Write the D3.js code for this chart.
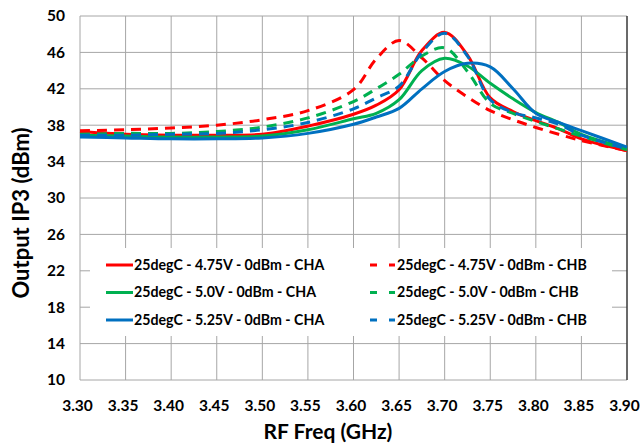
<!DOCTYPE html>
<html>
<head>
<meta charset="utf-8">
<script src="https://cdn.jsdelivr.net/npm/d3@7"></script>
<style>
body{margin:0;background:#fff;}
text{font-family:"Lato","Liberation Sans",sans-serif;font-weight:bold;fill:#000;}
</style>
</head>
<body>
<div id="chart"></div>
<script>
// ****** data ******
var freqs  = [3.30,3.35,3.40,3.45,3.50,3.55,3.60,3.625,3.65,3.675,3.70,3.725,3.75,3.775,3.80,3.825,3.85,3.90];
var cha475 = [37.3,37.0,36.9,36.9,37.0,37.9,39.2,40.2,41.9,46.2,48.2,45.7,41.0,39.5,38.5,37.6,36.5,35.2];
var chb475 = [37.4,37.5,37.7,38.0,38.6,39.6,41.9,45.3,47.3,45.4,42.9,41.1,39.6,38.6,37.75,37.0,36.3,35.2];
var cha50  = [36.9,36.8,36.7,36.7,36.8,37.5,38.7,39.3,40.8,44.0,45.35,44.5,42.6,40.9,39.4,38.3,37.0,35.45];
var chb50  = [37.0,37.1,37.1,37.3,37.8,38.8,40.6,42.0,43.6,45.6,46.5,43.9,40.4,39.3,38.4,37.6,36.8,35.3];
var cha525 = [36.7,36.6,36.5,36.5,36.6,37.1,38.1,38.9,39.85,42.0,43.9,44.8,44.4,42.0,39.3,38.3,37.4,35.6];
var chb525 = [36.9,36.9,37.0,37.1,37.5,38.3,39.8,41.0,42.3,46.0,48.1,45.6,40.8,39.4,38.8,38.1,36.9,35.4];
var seriesNames = ["25degC - 4.75V - 0dBm - CHA","25degC - 4.75V - 0dBm - CHB",
                   "25degC - 5.0V - 0dBm - CHA","25degC - 5.0V - 0dBm - CHB",
                   "25degC - 5.25V - 0dBm - CHA","25degC - 5.25V - 0dBm - CHB"];
var xTicks = [3.30,3.35,3.40,3.45,3.50,3.55,3.60,3.65,3.70,3.75,3.80,3.85,3.90];
var yTicks = [10,14,18,22,26,30,34,38,42,46,50];

var width=644, height=444;
var margin={top:16,right:17,bottom:64,left:80};
var colors={"4.75":"#ff0000","5.0":"#00b050","5.25":"#0070c0"};

var series=[
    {name:seriesNames[0],values:cha475,color:colors["4.75"],dashed:false},
    {name:seriesNames[1],values:chb475,color:colors["4.75"],dashed:true},
    {name:seriesNames[2],values:cha50, color:colors["5.0"], dashed:false},
    {name:seriesNames[3],values:chb50, color:colors["5.0"], dashed:true},
    {name:seriesNames[4],values:cha525,color:colors["5.25"],dashed:false},
    {name:seriesNames[5],values:chb525,color:colors["5.25"],dashed:true}
];

var svg=d3.select("#chart").append("svg")
    .attr("width",width).attr("height",height);

var x=d3.scaleLinear().domain([3.30,3.90]).range([margin.left,width-margin.right]);
var y=d3.scaleLinear().domain([10,50]).range([height-margin.bottom,margin.top]);

// grid
svg.append("g").selectAll("line.hg").data(yTicks).enter().append("line")
    .attr("x1",x(3.30)).attr("x2",x(3.90))
    .attr("y1",function(d){return y(d);}).attr("y2",function(d){return y(d);})
    .attr("stroke","#a6a6a6").attr("stroke-width",1);
svg.append("g").selectAll("line.vg").data(xTicks).enter().append("line")
    .attr("y1",y(10)).attr("y2",y(50))
    .attr("x1",function(d){return x(d);}).attr("x2",function(d){return x(d);})
    .attr("stroke","#a6a6a6").attr("stroke-width",1);
svg.append("line").attr("x1",x(3.90)).attr("x2",x(3.90)).attr("y1",y(10)).attr("y2",y(50))
    .attr("stroke","#000").attr("stroke-width",1);

// axes (labels only, lines come from the grid)
var xAxis=svg.append("g").attr("transform","translate(-3,"+y(10)+")")
    .call(d3.axisBottom(x).tickValues(xTicks).tickFormat(d3.format(".2f")).tickSize(0).tickPadding(20));
var yAxis=svg.append("g").attr("transform","translate("+margin.left+",0)")
    .call(d3.axisLeft(y).tickValues(yTicks).tickSize(0).tickPadding(15));
[xAxis,yAxis].forEach(function(a){
    a.select(".domain").remove();
    a.selectAll("text").style("font-size","15.5px").style("font-family","Lato").style("font-weight","bold");
});

// legend box (drawn before lines, it sits under them)
var lg=svg.append("g");
lg.append("rect").attr("x",90).attr("y",248).attr("width",522).attr("height",88).attr("fill","#fff");

var line=d3.line()
    .x(function(d,i){return x(freqs[i]);})
    .y(function(d){return y(d);})
    .curve(d3.curveCatmullRom.alpha(0.5));

svg.append("g").selectAll("path").data(series).enter().append("path")
    .attr("d",function(d){return line(d.values);})
    .attr("fill","none")
    .attr("stroke",function(d){return d.color;})
    .attr("stroke-width",3)
    .attr("stroke-dasharray",function(d){return d.dashed?"10,7":null;})
    .attr("stroke-linejoin","round");

// legend entries, two columns row by row
var items=lg.selectAll("g.item").data(series).enter().append("g")
    .attr("transform",function(d,i){
        var col=i%2, row=Math.floor(i/2);
        return "translate("+(col?370:106)+","+(265+row*27.5)+")";
    });
items.append("line")
    .attr("x1",0).attr("x2",function(d){return d.dashed?25:27;})
    .attr("y1",0).attr("y2",0)
    .attr("stroke",function(d){return d.color;})
    .attr("stroke-width",3)
    .attr("stroke-dasharray",function(d){return d.dashed?"7,12":null;});
items.append("text")
    .attr("x",function(d){return d.dashed?27:28;}).attr("y",0).attr("dy","0.35em")
    .style("font-size","14.2px")
    .text(function(d){return d.name;});

// axis titles
svg.append("text").attr("x",328).attr("y",439)
    .attr("text-anchor","middle").style("font-size","21px")
    .text("RF Freq (GHz)");
svg.append("text").attr("transform","translate(29,213) rotate(-90)")
    .attr("text-anchor","middle").style("font-size","22px")
    .text("Output IP3 (dBm)");
</script>
</body>
</html>
